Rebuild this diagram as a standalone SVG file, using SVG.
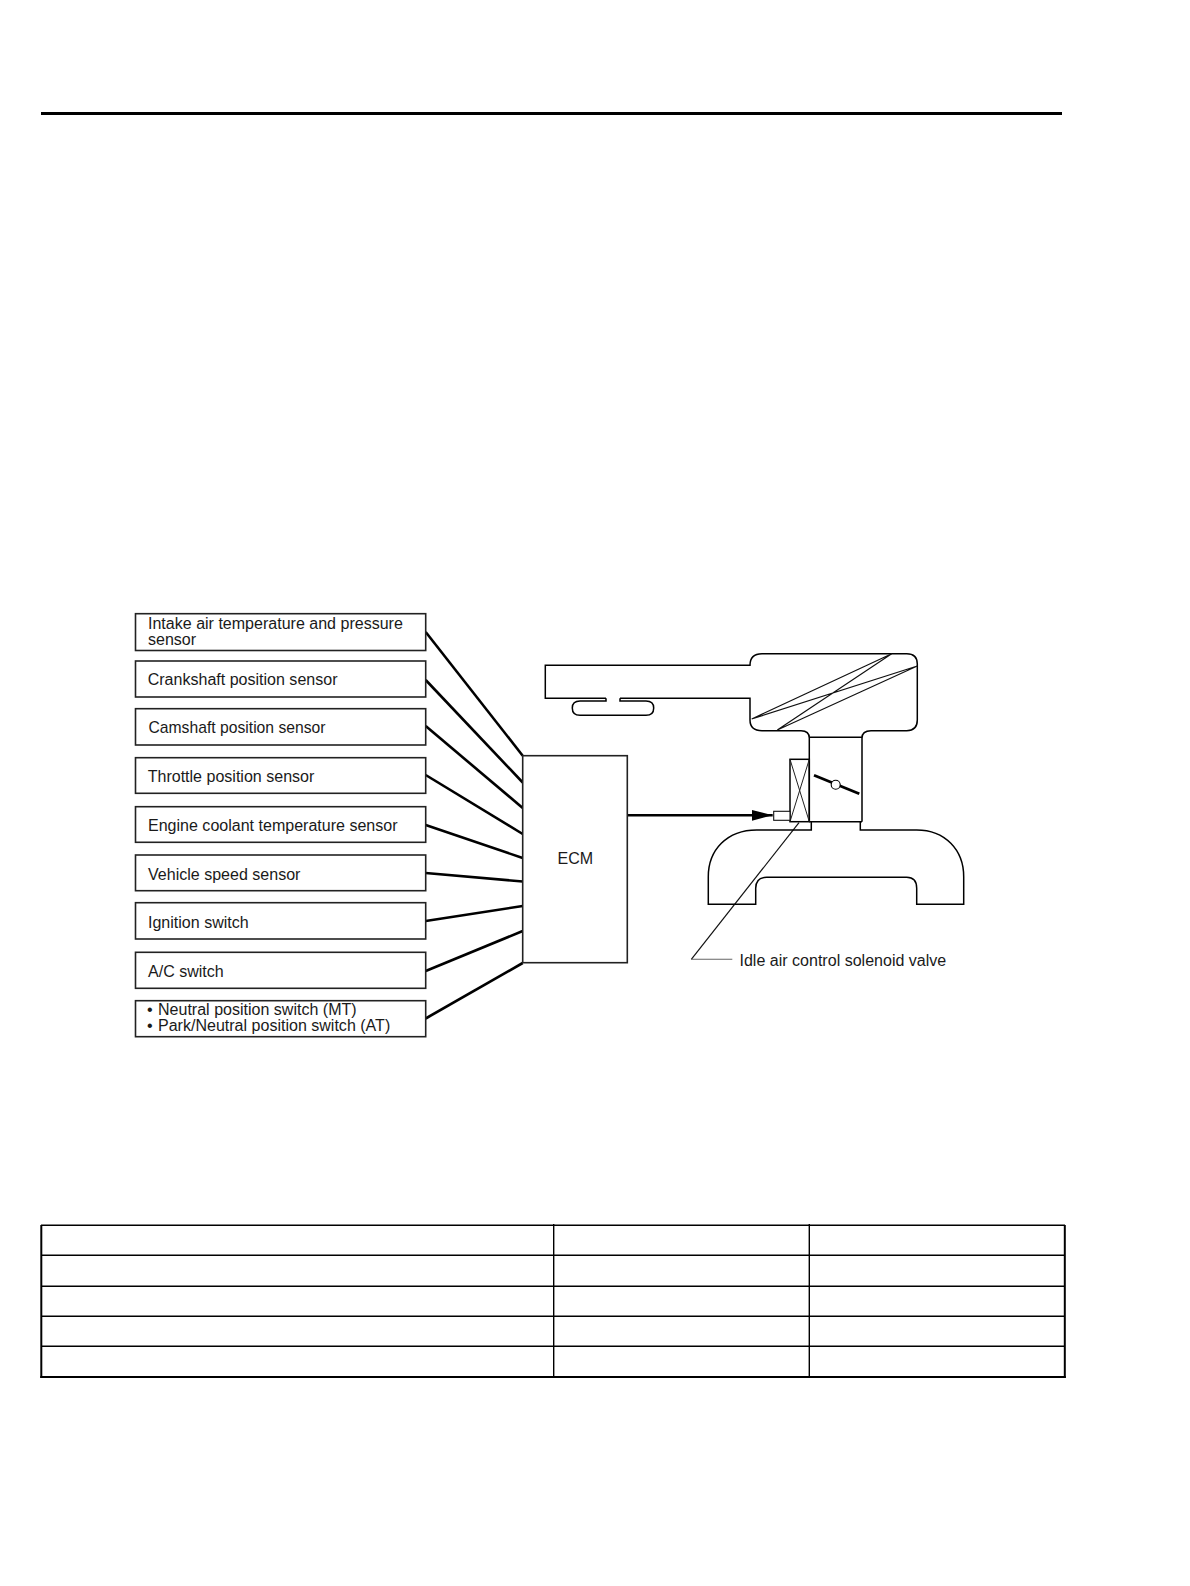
<svg xmlns="http://www.w3.org/2000/svg" width="1190" height="1586" viewBox="0 0 1190 1586">
<style>
.bg{fill:#fff}
.box{fill:#fff;stroke:#222;stroke-width:1.6}
.lbl{font-family:"Liberation Sans",Arial,sans-serif;font-size:16.05px;fill:#1a1a1a}
.wire{fill:none;stroke:#000;stroke-width:2.6}
.out{fill:none;stroke:#000;stroke-width:1.5}
.thin{fill:none;stroke:#111;stroke-width:1.2}
.tb{fill:none;stroke:#000;stroke-width:1.4}
.tbo{fill:none;stroke:#000;stroke-width:2}
</style>
<defs>
<marker id="arr" markerUnits="userSpaceOnUse" markerWidth="21" markerHeight="12" refX="21" refY="6" orient="auto"><path d="M0 0.5L21 6L0 11.5Z" fill="#000"/></marker>
</defs>
<rect class="bg" width="1190" height="1586"/>
<rect id="top-rule" x="41" y="112" width="1021" height="3" fill="#000"/>
<g id="connectors">
<path class="wire" d="M425.7 632L522.7 755.7"/>
<path class="wire" d="M425.7 680L522.7 782.5"/>
<path class="wire" d="M425.7 726L522.7 808"/>
<path class="wire" d="M425.7 775L522.7 834"/>
<path class="wire" d="M425.7 825L522.7 858"/>
<path class="wire" d="M425.7 873L522.7 881.5"/>
<path class="wire" d="M425.7 921L522.7 906"/>
<path class="wire" d="M425.7 971L522.7 931"/>
<path class="wire" d="M425.7 1018.5L522.7 963"/>
<path class="wire" d="M627.3 815.3H772.7" marker-end="url(#arr)"/>
<path class="thin" d="M799 822.7L691.3 959.3"/>
<path d="M691.3 959.3H732.3" fill="none" stroke="#666" stroke-width="1.1"/>
</g>
<g id="node-intake-air"><rect class="box" x="135.5" y="613.7" width="290.2" height="36.8"/><text class="lbl" x="148" y="629">Intake air temperature and pressure</text><text class="lbl" x="148" y="645">sensor</text></g>
<g id="node-crankshaft"><rect class="box" x="135.5" y="661" width="290.2" height="36"/><text class="lbl" x="147.700" y="685">Crankshaft position sensor</text></g>
<g id="node-camshaft"><rect class="box" x="135.5" y="708.7" width="290.2" height="36.3"/><text class="lbl" x="148.500" y="733" style="font-size:15.7px">Camshaft position sensor</text></g>
<g id="node-throttle"><rect class="box" x="135.5" y="757.7" width="290.2" height="35.6"/><text class="lbl" x="147.700" y="782">Throttle position sensor</text></g>
<g id="node-coolant"><rect class="box" x="135.5" y="806.7" width="290.2" height="35.6"/><text class="lbl" x="148" y="831">Engine coolant temperature sensor</text></g>
<g id="node-speed"><rect class="box" x="135.500" y="855" width="290.2" height="35.7"/><text class="lbl" x="148" y="880">Vehicle speed sensor</text></g>
<g id="node-ignition"><rect class="box" x="135.500" y="902.7" width="290.2" height="36.3"/><text class="lbl" x="148" y="928">Ignition switch</text></g>
<g id="node-ac"><rect class="box" x="135.500" y="952.3" width="290.2" height="36"/><text class="lbl" x="148" y="977">A/C switch</text></g>
<g id="node-neutral"><rect class="box" x="135.500" y="1000.7" width="290.2" height="36"/><text class="lbl" x="147" y="1015">•</text><text class="lbl" x="158" y="1015">Neutral position switch (MT)</text><text class="lbl" x="147" y="1031">•</text><text class="lbl" x="158" y="1031">Park/Neutral position switch (AT)</text></g>
<g id="node-ecm"><rect class="box" x="522.7" y="755.7" width="104.6" height="207"/><text class="lbl" x="557.500" y="864">ECM</text></g>
<g id="engine">
<path class="out" d="M606 698.300H545.300V665.300H750Q750 653.700 762 653.700H906.700Q917.300 653.700 917.300 664V720Q917.300 730.700 906.700 730.700H871Q862 730.700 862 738V821.700"/>
<path class="out" d="M620 698.300H750V720Q750 730.700 762 730.700H801Q809.300 730.700 809.300 738V821.700"/>
<path class="out" d="M606 698.300V701H580Q572.300 701 572.300 708Q572.300 715.300 580 715.300H646Q653.700 715.300 653.700 708Q653.700 701 646 701H620V698.300"/>
<path class="out" d="M809.300 737.300H862M809.300 821.700H862"/>
<path class="out" d="M811.300 821.700V830H756.700C727 830 708.300 850 708.300 876.700V904.300H755.700V888.300Q755.700 877.300 766.700 877.300H906.700Q916.700 877.300 916.700 888.300V904.300H963.700V876.700C963.700 850 945 830 916.700 830H860.300V821.700"/>
<path class="thin" d="M751.700 719L891.700 653.700L777.300 730M751.700 719L917.300 666L777.300 730"/>
<rect class="out" x="790" y="759.300" width="19.300" height="62.400" fill="#fff"/>
<path d="M790 759.300L809.300 821.700M809.300 759.300L790 821.700" fill="none" stroke="#222" stroke-width="1"/>
<rect x="773.700" y="811.300" width="16.300" height="9" fill="#fff" stroke="#111" stroke-width="1.100"/>
<path d="M814 775.300L859.300 793.700" fill="none" stroke="#000" stroke-width="2.800"/>
<circle cx="835.700" cy="784.700" r="4.500" fill="#fff" stroke="#000" stroke-width="1.100"/>
<text class="lbl" x="739.500" y="966">Idle air control solenoid valve</text>
</g>
<g id="table">
<path class="tb" d="M41 1225.300H1065M41 1255.300H1065M41 1286.300H1065M41 1316.300H1065M41 1346.300H1065"/>
<path class="tb" d="M553.700 1224V1376M809.300 1224V1376"/>
<path class="tbo" d="M41.300 1225V1378"/>
<path class="tbo" d="M1064.800 1225V1378"/>
<path d="M40.300 1377H1065.800" fill="none" stroke="#000" stroke-width="2"/>
</g>
</svg>
